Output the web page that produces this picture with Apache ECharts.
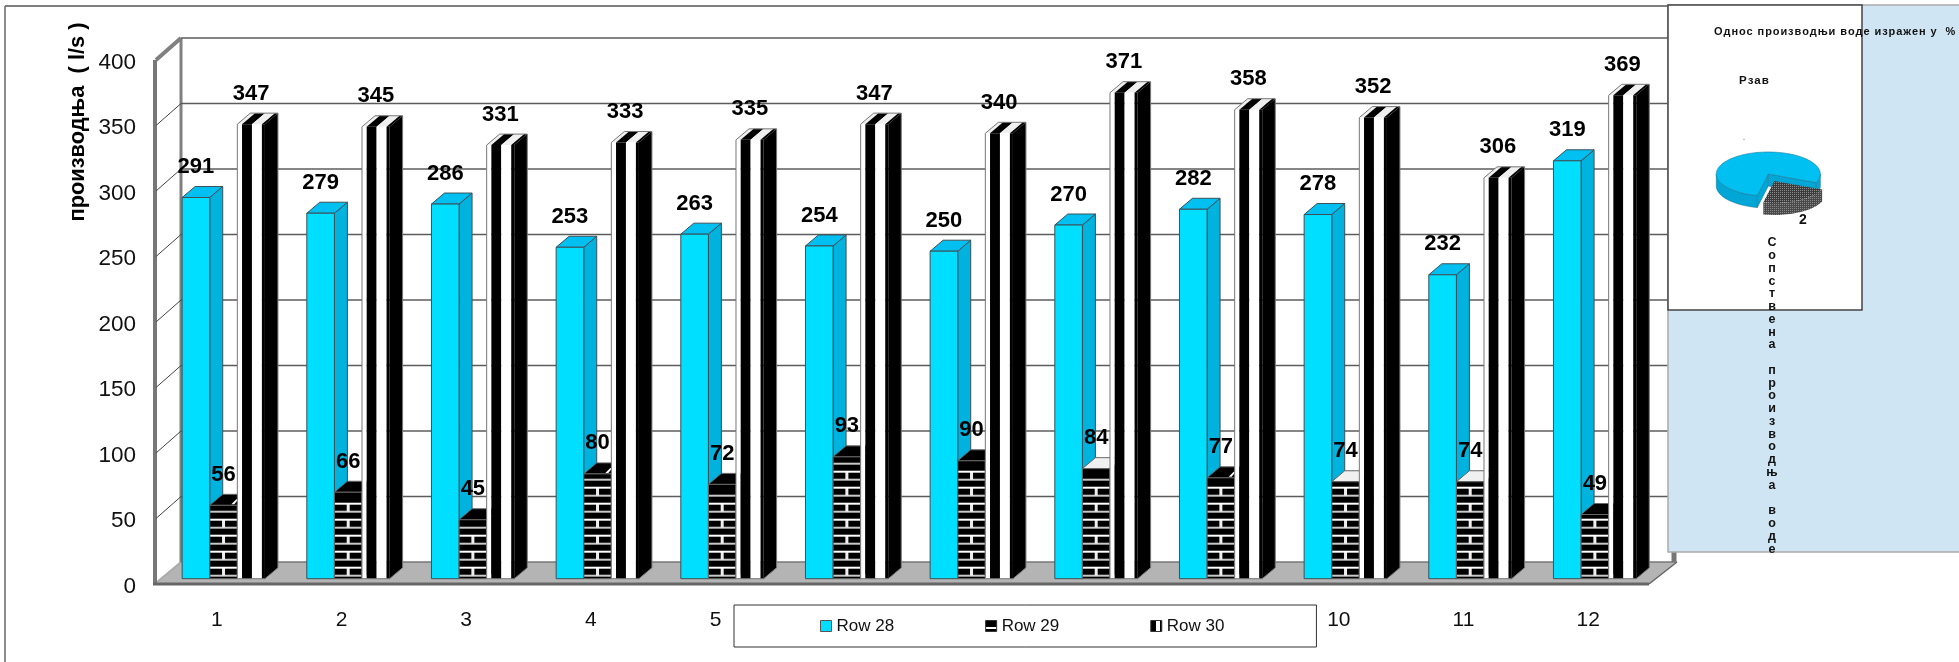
<!DOCTYPE html>
<html><head><meta charset="utf-8">
<style>html,body{margin:0;padding:0;background:#fff;overflow:hidden}#c{width:1959px;height:662px}</style>
<script src="https://cdn.jsdelivr.net/npm/echarts@6/dist/echarts.min.js"></script>
</head><body><div id="c"></div>
<script>
const categories = ['1','2','3','4','5','6','7','8','9','10','11','12'];
const yTicks = [0,50,100,150,200,250,300,350,400];
const row28 = [291,279,286,253,263,254,250,270,282,278,232,319];
const row29 = [56,66,45,80,72,93,90,84,77,74,74,49];
const row30 = [347,345,331,333,335,347,340,371,358,352,306,369];
const pieNames = ['Рзав','Сопствена производња воде'];
const pieValues = [78,22];
const pieTitle = 'Однос производњи воде изражен у  %';

const FONT = '"Liberation Sans", Arial, sans-serif';
const WALL_DX = 28, WALL_DY = 22;
const BAR_DX = 13, BAR_DY = 11, OFF_X = 8.2, OFF_Y = 5.3;
const BAR_FRAC = 27.6 / 124.67;
const lightTops = {9:1,10:1,7:1};
const slashTops = {0:1,3:1,8:1};

function poly(pts, fill, stroke, lw){
  return {type:'polygon', shape:{points:pts}, style:{fill, stroke:stroke||null, lineWidth:lw||0}, silent:true};
}
function pline(pts, stroke, lw){
  return {type:'polyline', shape:{points:pts}, style:{fill:null, stroke, lineWidth:lw}, silent:true};
}
function barGeom(api, slot){
  const p = api.coord([api.value(0), api.value(1)]);
  const b = api.coord([api.value(0), 0]);
  const w = api.size([1,0])[0] * BAR_FRAC;
  return {x:p[0] - 1.5*w + slot*w + OFF_X, y:p[1]-OFF_Y, base:b[1]-OFF_Y, w};
}
function boxFaces(g, front, top, side, stroke){
  const {x,y,base,w} = g, d = BAR_DX, h = BAR_DY;
  return [
    poly([[x+w,y],[x+w+d,y-h],[x+w+d,base-h],[x+w,base]], side, stroke, 1),
    poly([[x,y],[x+d,y-h],[x+w+d,y-h],[x+w,y]], top, stroke, 1),
    poly([[x,y],[x+w,y],[x+w,base],[x,base]], front, stroke, 1)
  ];
}
function renderA(params, api){
  const g = barGeom(api,0);
  return {type:'group', children: boxFaces(g,'#00dfff','#00c0f2','#00b2de','#3e5058')};
}
function renderB(params, api){
  const g = barGeom(api,1), i = params.dataIndex;
  const topC = lightTops[i] ? '#f0f0f0' : '#000';
  const kids = boxFaces(g,'#000',topC,'#000','#666');
  const {x,y,base,w} = g;
  const rowH = 8;
  for (let k=0; ; k++){
    const ly = base - 3 - k*rowH;
    if (ly < y + 4) break;
    kids.push({type:'rect', shape:{x:x+0.5,y:ly-1,width:w-1,height:2}, style:{fill:k%2?'#fff':'#c8c8c8'}, silent:true});
    if (k%2===0 && ly-rowH > y+4){
      kids.push({type:'rect', shape:{x:x+w/2-1.5,y:ly-rowH,width:3,height:rowH}, style:{fill:'#eee'}, silent:true});
    }
  }
  if (slashTops[i]){
    kids.push(poly([[x+w-6,y-1],[x+w-1,y-6],[x+w+1,y-6],[x+w-3,y-1]],'#fff'));
  }
  return {type:'group', children:kids};
}
function renderC(params, api){
  const g = barGeom(api,2);
  const {x,y,base,w} = g, d = BAR_DX, h = BAR_DY;
  const stops = [[0,.17,'#fff'],[.17,.53,'#000'],[.53,.89,'#fff'],[.89,1,'#000']];
  const kids = [poly([[x+w,y],[x+w+d,y-h],[x+w+d,base-h],[x+w,base]],'#000')];
  const tops = ['#efefef','#000','#efefef','#000'];
  stops.forEach((s,n)=>{
    const a = x+s[0]*w, b = x+s[1]*w;
    kids.push(poly([[a,y],[a+d,y-h],[b+d,y-h],[b,y]], tops[n]));
    kids.push({type:'rect', shape:{x:a,y,width:b-a,height:base-y}, style:{fill:s[2]}, silent:true});
  });
  kids.push(pline([[x+w,base],[x+w+d,base-h],[x+w+d,y-h],[x+d,y-h],[x,y],[x,base],[x+w,base]],'#777',1));
  return {type:'group', children:kids};
}
function labelRenderer(slot){
  return function(params, api){
    const g = barGeom(api,slot);
    return {type:'text', silent:true, style:{text:String(api.value(1)), x:g.x+g.w/2, y:g.y-30.5, align:'center', verticalAlign:'middle', fill:'#000', font:'bold 22px '+FONT}};
  };
}
function renderWall(params, api){
  const cs = params.coordSys, x0 = cs.x, x1 = cs.x + cs.width;
  const y = api.coord([0, api.value(0)])[1];
  const kids = [];
  const ln = (a,b,c,d,stroke,lw)=>({type:'line', shape:{x1:a,y1:b,x2:c,y2:d}, style:{stroke,lineWidth:lw}, silent:true});
  if (api.value(0) === 0){
    kids.push(poly([[x0,y],[x1,y],[x1+WALL_DX,y-WALL_DY],[x0+WALL_DX,y-WALL_DY]],'#b4b4b4'));
    kids.push(ln(x0+WALL_DX,y-WALL_DY,x1+WALL_DX,y-WALL_DY,'#777',1.5));
    kids.push(ln(x0+2,y,x0+WALL_DX,y-WALL_DY,'#aaa',2));
    kids.push(ln(x0+WALL_DX,y-WALL_DY,x0+WALL_DX,cs.y-WALL_DY,'#808080',3));
    kids.push(ln(x0+2,y,x0+2,cs.y,'#777',4));
    kids.push(ln(x0,y,x1,y,'#666',3));
    kids.push(ln(x1,y,x1+WALL_DX,y-WALL_DY,'#666',1.5));
    kids.push(ln(x1+WALL_DX-3,y-WALL_DY,x1+WALL_DX-3,y-WALL_DY-11,'#777',5));
  } else {
    const top = api.value(0) === 400;
    kids.push(ln(x0+3,y,x0+WALL_DX,y-WALL_DY,top?'#808080':'#444',top?4:1));
    kids.push(ln(x0+WALL_DX,y-WALL_DY,x1+WALL_DX,y-WALL_DY,'#5c5c5c',1.5));
  }
  return {type:'group', children:kids};
}

function dots(c1,c2){
  const cv = document.createElement('canvas'); cv.width = cv.height = 2;
  const x = cv.getContext('2d');
  x.fillStyle=c1; x.fillRect(0,0,2,2);
  x.fillStyle=c2; x.fillRect(0,0,1,1);
  return {image:cv, repeat:'repeat'};
}
const PIE = {cx:1768.3, cy:174, rx:52, ry:22, depth:12, start:23, ex:6, ey:7};
function arc(cx,cy,a0,a1){
  const pts=[]; const n=Math.max(2,Math.ceil(Math.abs(a1-a0)/3));
  for(let i=0;i<=n;i++){const t=(a0+(a1-a0)*i/n)*Math.PI/180;pts.push([cx+PIE.rx*Math.cos(t),cy+PIE.ry*Math.sin(t)]);}
  return pts;
}
function sideBand(cx,cy,a0,a1,fill,stroke){
  const top=arc(cx,cy,a0,a1), bot=arc(cx,cy+PIE.depth,a0,a1).reverse();
  return poly(top.concat(bot),fill,stroke,0.6);
}
function renderPie(params, api){
  const total = pieValues.reduce((a,b)=>a+b,0);
  const sweep = pieValues[1]/total*360;
  const g0 = PIE.start, g1 = g0+sweep;
  const {cx,cy,depth} = PIE, gx = cx+PIE.ex, gy = cy+PIE.ey;
  const blueSide='#00a6d6', blueTop='#00c0f2', line='#1d7c9c';
  const kids=[];
  kids.push(sideBand(cx,cy,g1,180,blueSide,line));
  kids.push(sideBand(cx,cy,360,360+g0,blueSide,line));
  const e0=arc(cx,cy,g0,g0)[0], e1=arc(cx,cy,g1,g1)[0];
  kids.push(poly([[cx,cy],e1,[e1[0],e1[1]+depth],[cx,cy+depth]],blueSide,line,0.6));
  kids.push(poly([[cx,cy],e0,[e0[0],e0[1]+depth],[cx,cy+depth]],blueSide,line,0.6));
  kids.push(poly([[cx,cy]].concat(arc(cx,cy,g1,360+g0)),blueTop,line,0.6));
  kids.push(sideBand(gx,gy,g0,g1,dots('#4a4a4a','#888'),null));
  kids.push(poly([[gx,gy]].concat(arc(gx,gy,g0,g1)),dots('#3c3c3c','#8a8a8a'),null,0));
  return {type:'group', children:kids};
}

const baseCustom = {type:'custom', xAxisIndex:0, yAxisIndex:0, silent:true, clip:false, encode:{x:0,y:1}};
function barData(v){return v.map((d,i)=>[i,d]);}
const verticalLabel = pieNames[1].split('').join('\n');
const spaced = s => s.split('').join('\u200A');
const hiddenAxis = {axisLine:{show:false}, axisTick:{show:false}, splitLine:{show:false}};

const chart = echarts.init(document.getElementById('c'));
chart.setOption({
  animation:false,
  backgroundColor:'#fff',
  grid:[
    {left:153, top:60, width:1496, height:524, containLabel:false},
    {left:153, top:62.6, width:1496, height:524, containLabel:false}
  ],
  xAxis:[
    Object.assign({type:'category', gridIndex:0, data:categories,
      axisLabel:{fontFamily:FONT,fontSize:21,color:'#111',margin:26,interval:0,padding:[0,0,0,3]}},hiddenAxis),
    Object.assign({type:'category', gridIndex:1, data:categories, axisLabel:{show:false}},hiddenAxis)
  ],
  yAxis:[
    Object.assign({type:'value', gridIndex:0, min:0, max:400, interval:50, axisLabel:{show:false}},hiddenAxis),
    Object.assign({type:'value', gridIndex:1, min:0, max:400, interval:50,
      axisLabel:{fontFamily:FONT,fontSize:22.5,color:'#111',margin:17}},hiddenAxis)
  ],
  legend:{left:734, top:605, orient:'horizontal', padding:[12.5,92,12.5,86], itemGap:91, itemWidth:11, itemHeight:11,
    backgroundColor:'#fff', borderColor:'#333', borderWidth:1, icon:'rect', selectedMode:false,
    textStyle:{fontFamily:FONT,fontSize:17,color:'#111'},
    data:[
      {name:'Row 28', itemStyle:{color:'#00dfff',borderColor:'#555',borderWidth:1}},
      {name:'Row 29', itemStyle:{color:new echarts.graphic.LinearGradient(0,0,0,1,[{offset:0,color:'#000'},{offset:.55,color:'#000'},{offset:.55,color:'#fff'},{offset:.75,color:'#fff'},{offset:.75,color:'#000'},{offset:1,color:'#000'}]),borderColor:'#333',borderWidth:1}},
      {name:'Row 30', itemStyle:{color:new echarts.graphic.LinearGradient(0,0,1,0,[{offset:0,color:'#000'},{offset:.45,color:'#000'},{offset:.45,color:'#fff'},{offset:.8,color:'#fff'},{offset:.8,color:'#000'},{offset:1,color:'#000'}]),borderColor:'#333',borderWidth:1}}
    ]},
  graphic:[
    {type:'line', z:1, shape:{x1:5,y1:6,x2:1668,y2:6}, style:{stroke:'#555',lineWidth:1.5}, silent:true},
    {type:'line', z:1, shape:{x1:5,y1:6,x2:5,y2:662}, style:{stroke:'#666',lineWidth:1.5}, silent:true},
    {type:'text', z:5, silent:true, x:78, y:122, rotation:Math.PI/2, originX:0, originY:0,
      style:{text:'производња  ( l/s )', font:'bold 21.8px '+FONT, fill:'#000', align:'center', verticalAlign:'middle'}},
    {type:'rect', z:20, shape:{x:1668,y:5,width:292,height:547}, style:{fill:'#cfe5f3',stroke:'#aaa',lineWidth:1.5}, silent:true},
    {type:'rect', z:21, shape:{x:1668,y:5,width:194,height:305}, style:{fill:'#fff',stroke:'#444',lineWidth:1.5}, silent:true},
    {type:'text', z:23, silent:true, x:1714, y:32, style:{text:spaced(pieTitle), font:'bold 11px '+FONT, fill:'#111', verticalAlign:'middle'}},
    {type:'text', z:23, silent:true, x:1739, y:81, style:{text:spaced(pieNames[0]), font:'bold 11.5px '+FONT, fill:'#111', verticalAlign:'middle'}},
    {type:'text', z:23, silent:true, x:1803, y:220, style:{text:'2', font:'bold 14px '+FONT, fill:'#111', align:'center', verticalAlign:'middle'}},
    {type:'text', z:23, silent:true, x:1772, y:236.5, style:{text:verticalLabel, font:'bold 12.5px '+FONT, lineHeight:12.76, fill:'#111', align:'center'}},
    {type:'circle', z:23, shape:{cx:1744,cy:139.5,r:0.7}, style:{fill:'#999'}, silent:true}
  ],
  series:[
    Object.assign({},baseCustom,{name:'wall', z:1, data:yTicks.map(t=>[t]), renderItem:renderWall, encode:{y:0}}),
    Object.assign({},baseCustom,{name:'Row 28', z:3, data:barData(row28), renderItem:renderA, itemStyle:{color:'#00dfff'}}),
    Object.assign({},baseCustom,{name:'Row 29', z:4, data:barData(row29), renderItem:renderB, itemStyle:{color:'#000'}}),
    Object.assign({},baseCustom,{name:'Row 30', z:5, data:barData(row30), renderItem:renderC, itemStyle:{color:'#000'}}),
    Object.assign({},baseCustom,{name:'l28', z:6, data:barData(row28), renderItem:labelRenderer(0)}),
    Object.assign({},baseCustom,{name:'l29', z:6, data:barData(row29), renderItem:labelRenderer(1)}),
    Object.assign({},baseCustom,{name:'l30', z:6, data:barData(row30), renderItem:labelRenderer(2)}),
    {type:'custom', name:'pie', coordinateSystem:'none', z:22, silent:true, data:[[0]], renderItem:renderPie}
  ]
});
</script></body></html>
